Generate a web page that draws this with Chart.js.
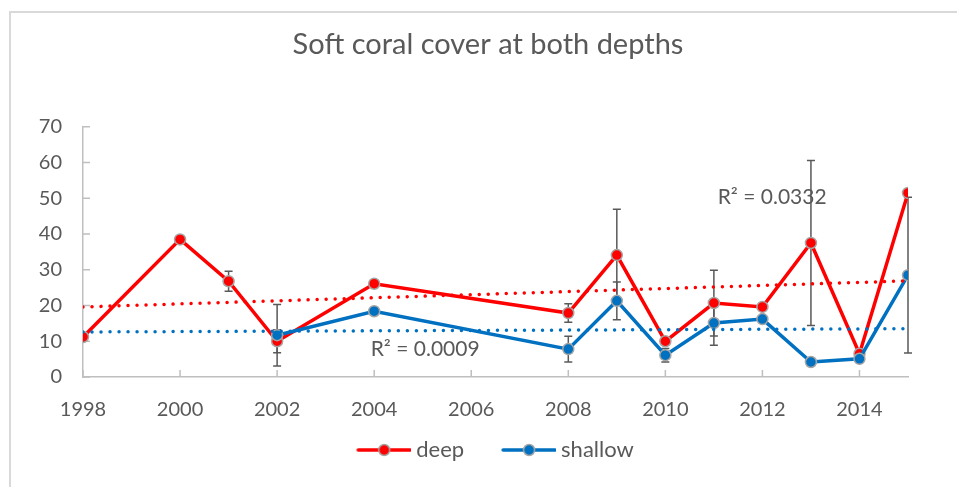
<!DOCTYPE html>
<html>
<head>
<meta charset="utf-8">
<script src="https://cdn.jsdelivr.net/npm/chart.js@4/dist/chart.umd.min.js"></script>
<style>
  html, body { margin: 0; padding: 0; background: #ffffff; overflow: hidden; }
  #frame { position: absolute; left: 9px; top: 11px; width: 1200px; height: 800px; border: 2px solid #D9D9D9; }
  #wrap { position: absolute; left: 0; top: 0; width: 957px; height: 487px; }
</style>
</head>
<body>
<div id="frame"></div>
<div id="wrap"><canvas id="chart" width="957" height="487"></canvas></div>
<script>
// Survey years and mean soft coral cover (%), with standard errors
const deepYears = [1998, 2000, 2001, 2002, 2004, 2008, 2009, 2010, 2011, 2012, 2013, 2014, 2015];
const deepCover = [11.2, 38.5, 26.8, 10.0, 26.1, 17.9, 34.1, 10.0, 20.7, 19.6, 37.5, 6.5, 51.5];
const deepError = [null, null, 2.8, 3.2, null, 2.6, 12.8, null, 9.2, null, 23.1, null, null];

const shallowYears = [2002, 2004, 2008, 2009, 2010, 2011, 2012, 2013, 2014, 2015];
const shallowCover = [11.7, 18.4, 7.8, 21.3, 6.1, 15.1, 16.2, 4.2, 5.1, 28.5];
const shallowError = [8.6, null, 3.6, 5.3, 1.9, 6.2, null, null, null, 21.8];

// Linear trendlines (end points) and their R² values
const trendYears = [1998, 2015];
const deepTrend = [19.6, 26.9];
const shallowTrend = [12.6, 13.5];
const rSquaredText = ['R\u00B2 = 0.0332', 'R\u00B2 = 0.0009'];

// Axis ticks
const xTickYears = [1998, 2000, 2002, 2004, 2006, 2008, 2010, 2012, 2014];
const yTickStep = 10;
const yMax = 70;

const RED = '#FF0000';
const BLUE = '#0070C0';
const TEXT = '#595959';
const AXIS = '#BFBFBF';
const FONT = 'Lato';

const toPoints = (xs, ys) => xs.map((x, i) => ({ x: x, y: ys[i] }));

// Legend symbol: a short line with a marker in the middle,
// right-aligned inside a wider transparent box
function legendSymbol(color) {
  const c = document.createElement('canvas');
  c.width = 82; c.height = 14;
  const g = c.getContext('2d');
  g.strokeStyle = color; g.lineWidth = 3.5; g.lineCap = 'round';
  g.beginPath(); g.moveTo(29, 7); g.lineTo(81, 7); g.stroke();
  g.beginPath(); g.arc(55, 7, 5.5, 0, Math.PI * 2);
  g.fillStyle = color; g.fill();
  g.strokeStyle = '#A5A5A5'; g.lineWidth = 1.5; g.stroke();
  return c;
}

// Error bars with caps, drawn beneath the series
const errorBars = {
  id: 'errorBars',
  beforeDatasetsDraw(chart, args, opts) {
    const { ctx, scales: { x, y } } = chart;
    ctx.save();
    ctx.strokeStyle = opts.color;
    ctx.lineWidth = opts.width;
    chart.data.datasets.forEach(ds => {
      if (!ds.errors) return;
      ds.data.forEach((p, i) => {
        const e = ds.errors[i];
        if (e == null) return;
        const px = x.getPixelForValue(p.x);
        const top = y.getPixelForValue(p.y + e);
        const bot = y.getPixelForValue(p.y - e);
        const h = opts.cap / 2;
        ctx.beginPath();
        ctx.moveTo(px, top); ctx.lineTo(px, bot);
        ctx.moveTo(px - h, top); ctx.lineTo(px + h, top);
        ctx.moveTo(px - h, bot); ctx.lineTo(px + h, bot);
        ctx.stroke();
      });
    });
    ctx.restore();
  }
};

// Tick marks pointing into the plot area
const innerTicks = {
  id: 'innerTicks',
  beforeDatasetsDraw(chart, args, opts) {
    const { ctx, scales: { x, y }, chartArea: a } = chart;
    ctx.save();
    ctx.strokeStyle = opts.color;
    ctx.lineWidth = opts.width;
    ctx.beginPath();
    y.ticks.forEach(t => {
      const py = y.getPixelForValue(t.value);
      ctx.moveTo(a.left, py); ctx.lineTo(a.left + opts.length, py);
    });
    x.ticks.forEach(t => {
      const px = x.getPixelForValue(t.value);
      ctx.moveTo(px, a.bottom); ctx.lineTo(px, a.bottom - opts.length);
    });
    ctx.stroke();
    ctx.restore();
  }
};

// R² labels placed in data coordinates
const rSquaredLabels = {
  id: 'rSquaredLabels',
  afterDatasetsDraw(chart, args, opts) {
    const { ctx, scales: { x, y } } = chart;
    ctx.save();
    ctx.fillStyle = opts.color;
    ctx.font = opts.font;
    ctx.textAlign = 'center';
    ctx.textBaseline = 'middle';
    opts.anchors.forEach((an, i) => {
      ctx.fillText(rSquaredText[i], x.getPixelForValue(an.x), y.getPixelForValue(an.y));
    });
    ctx.restore();
  }
};

// Horizontal offsets for the title and legend blocks
const blockOffsets = {
  id: 'blockOffsets',
  afterLayout(chart, args, opts) {
    const t = chart.titleBlock, l = chart.legend;
    if (t) { t.left += opts.title; t.right += opts.title; }
    if (l) { l.left += opts.legend; l.right += opts.legend; }
  }
};

const symbols = [legendSymbol(RED), legendSymbol(BLUE)];

new Chart(document.getElementById('chart'), {
  type: 'line',
  data: {
    datasets: [
      {
        label: 'deep',
        data: toPoints(deepYears, deepCover),
        errors: deepError,
        borderColor: RED,
        backgroundColor: RED,
        borderWidth: 3.5,
        pointRadius: 5.5,
        pointBorderWidth: 1.5,
        pointBorderColor: '#A5A5A5',
        pointBackgroundColor: RED,
        tension: 0,
        order: 3
      },
      {
        label: 'shallow',
        data: toPoints(shallowYears, shallowCover),
        errors: shallowError,
        borderColor: BLUE,
        backgroundColor: BLUE,
        borderWidth: 3.5,
        pointRadius: 5.5,
        pointBorderWidth: 1.5,
        pointBorderColor: '#A5A5A5',
        pointBackgroundColor: BLUE,
        tension: 0,
        order: 2
      },
      {
        label: 'deep trend',
        data: toPoints(trendYears, deepTrend),
        borderColor: RED,
        borderWidth: 3.5,
        borderDash: [0.01, 9],
        borderCapStyle: 'round',
        pointRadius: 0,
        order: 1
      },
      {
        label: 'shallow trend',
        data: toPoints(trendYears, shallowTrend),
        borderColor: BLUE,
        borderWidth: 3.5,
        borderDash: [0.01, 9],
        borderCapStyle: 'round',
        pointRadius: 0,
        order: 0
      }
    ]
  },
  options: {
    responsive: false,
    animation: false,
    events: [],
    layout: { padding: { left: 30, right: 49, top: 0, bottom: 16 } },
    scales: {
      x: {
        type: 'linear',
        min: 1998,
        max: 2015,
        afterBuildTicks: s => { s.ticks = xTickYears.map(v => ({ value: v })); },
        afterFit: s => { s.height = 46; },
        grid: { display: true, drawOnChartArea: false, drawTicks: false },
        border: { color: AXIS, width: 1.5 },
        ticks: {
          callback: v => String(v),
          color: TEXT,
          font: { family: FONT, size: 20 },
          padding: 21,
          maxRotation: 0,
          autoSkip: false
        }
      },
      y: {
        min: 0,
        max: yMax,
        afterFit: s => { s.width = 53; },
        grid: { display: true, drawOnChartArea: false, drawTicks: false },
        border: { color: AXIS, width: 1.5 },
        ticks: {
          stepSize: yTickStep,
          color: TEXT,
          font: { family: FONT, size: 20 },
          padding: 21
        }
      }
    },
    plugins: {
      title: {
        display: true,
        text: 'Soft coral cover at both depths',
        color: TEXT,
        font: { family: FONT, size: 29, weight: 'normal' },
        padding: { top: 27, bottom: 65 }
      },
      legend: {
        position: 'bottom',
        fullSize: false,
        labels: {
          usePointStyle: true,
          pointStyleWidth: 70,
          boxHeight: 14,
          padding: 16,
          color: TEXT,
          font: { family: FONT, size: 22 },
          sort: (a, b) => a.datasetIndex - b.datasetIndex,
          generateLabels: chart => {
            const items = Chart.defaults.plugins.legend.labels.generateLabels(chart)
              .filter(it => it.datasetIndex < 2);
            items.forEach(it => { it.pointStyle = symbols[it.datasetIndex]; });
            return items;
          }
        }
      },
      tooltip: { enabled: false },
      errorBars: { color: '#595959', width: 1.5, cap: 8 },
      innerTicks: { color: AXIS, width: 1.5, length: 7 },
      rSquaredLabels: {
        color: TEXT,
        font: '21px Lato',
        anchors: [{ x: 2012.2, y: 50.3 }, { x: 2005.05, y: 7.8 }]
      },
      blockOffsets: { title: 19, legend: -11 }
    }
  },
  plugins: [errorBars, innerTicks, rSquaredLabels, blockOffsets]
});
</script>
</body>
</html>
